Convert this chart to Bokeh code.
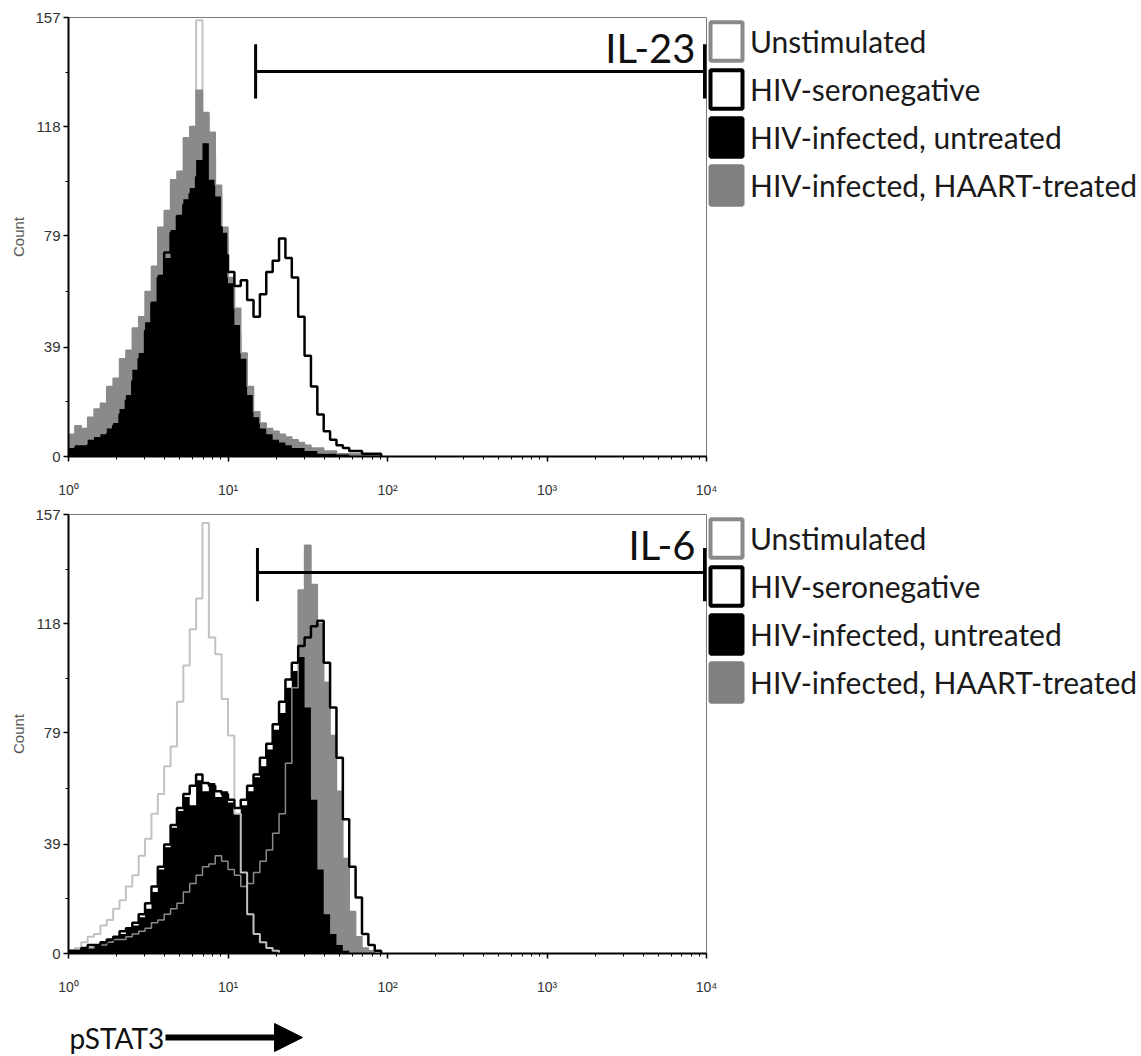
import numpy as np
from bokeh.plotting import figure
from bokeh.models import (Range1d, FixedTicker, Legend, LegendItem, Label,
                          Arrow, NormalHead)
from bokeh.layouts import column
from bokeh.embed import file_html
from bokeh.resources import INLINE

# ---------------- data ----------------
# histogram counts per channel bin; bins start at 10^0, each 0.04 decade wide
BIN_LOG_WIDTH = 0.04

il23_unstim = [1, 2, 4, 6, 7, 10, 12, 16, 19, 24, 28, 34, 41, 49, 57, 65, 74, 88,
               101, 112, 156, 122, 108, 94, 78, 60, 44, 26, 13, 7, 4, 2, 1]
il23_seroneg = [2, 3, 3, 4, 5, 6, 8, 11, 15, 20, 27, 35, 45, 55, 64, 73, 80, 86,
                90, 94, 100, 97, 89, 82, 72, 66, 61, 63, 56, 50, 58, 66, 70, 78,
                71, 64, 50, 36, 25, 15, 9, 6, 4, 3, 2, 2, 1, 1, 1]
il23_untreated = [3, 4, 4, 6, 7, 8, 10, 12, 17, 22, 31, 37, 48, 55, 65, 71, 81, 86,
                  92, 96, 106, 112, 99, 93, 80, 62, 47, 35, 22, 14, 10, 8, 6, 5, 4,
                  3, 3, 2, 2, 1, 1, 1, 1, 1]
il23_haart = [8, 11, 10, 14, 17, 19, 25, 28, 35, 38, 46, 50, 59, 68, 82, 88, 99, 102,
              114, 118, 131, 123, 116, 97, 82, 64, 53, 37, 25, 16, 12, 10, 9, 8, 7,
              6, 5, 4, 3, 3, 2, 2, 1, 1, 1, 1, 1, 1, 1]

il6_unstim = [1, 2, 4, 6, 7, 10, 12, 16, 19, 24, 28, 35, 41, 50, 57, 67, 74, 90,
              103, 116, 127, 154, 113, 107, 91, 78, 50, 29, 14, 7, 4, 2, 1]
il6_seroneg = [1, 1, 2, 3, 3, 4, 5, 6, 8, 9, 11, 14, 18, 24, 31, 39, 46, 52, 57, 60,
               64, 61, 60, 58, 57, 55, 52, 55, 60, 64, 70, 75, 82, 90, 98, 104, 110,
               113, 117, 119, 104, 88, 70, 48, 31, 20, 7, 3, 1]
il6_untreated = [1, 1, 2, 2, 3, 4, 5, 6, 7, 9, 10, 13, 16, 22, 30, 38, 45, 51, 56, 53,
                 62, 58, 61, 56, 58, 54, 50, 53, 58, 63, 67, 73, 80, 86, 95, 101, 106,
                 88, 55, 30, 14, 7, 3, 1]
il6_haart = [1, 1, 2, 2, 3, 3, 4, 5, 5, 6, 7, 8, 9, 11, 12, 14, 16, 18, 22, 25, 28,
             31, 32, 35, 33, 30, 28, 24, 25, 29, 33, 37, 43, 50, 68, 95, 130, 146,
             132, 118, 97, 78, 58, 34, 15, 6, 2, 1]

y_ticks = [0, 39, 79, 118, 157]
x_ticks = [1, 10, 100, 1000, 10000]
x_tick_labels = ["10\u2070", "10\u00b9", "10\u00b2", "10\u00b3", "10\u2074"]
legend_labels = ["Unstimulated", "HIV-seronegative",
                 "HIV-infected, untreated", "HIV-infected, HAART-treated"]
panel_labels = ["IL-23", "IL-6"]
gate_start = [14.9, 15.3]
gate_end = [10000, 10000]
gate_level = [137.7, 136.3]
gate_tick_low = [128, 126]
gate_tick_high = [147.4, 145]

# ---------------- styles ----------------
C_UNSTIM = "#c2c2c2"
C_HAART = "#8a8a8a"
C_BLACK = "#000000"
LEG_FILL = ["white", "white", "black", "#808080"]
LEG_LINE = ["#8a8a8a", "black", "black", "#808080"]
FRAME_W = 638
FRAME_H = 439
LEFT = 68


def step_xy(counts):
    n = len(counts)
    edges = 10 ** (BIN_LOG_WIDTH * np.arange(n + 1))
    return edges, list(counts) + [0]


def make_panel(idx, unstim, seroneg, untreated, haart, top_border, unstim_on_top):
    p = figure(frame_width=FRAME_W, frame_height=FRAME_H, x_axis_type="log",
               x_range=Range1d(1, 10000), y_range=Range1d(0, 157),
               output_backend="svg", toolbar_location=None,
               min_border_left=LEFT, min_border_right=0,
               min_border_top=top_border, min_border_bottom=46)
    p.grid.visible = False
    p.outline_line_color = "#7a7a7a"
    p.outline_line_width = 1

    def outline(counts, color, width):
        x, y = step_xy(counts)
        p.step(x=x, y=y, mode="after", line_color=color, line_width=width)

    def fill(counts, color):
        x, y = step_xy(counts)
        p.varea_step(x=x, y1=[0] * len(y), y2=y, step_mode="after",
                     fill_color=color)

    if not unstim_on_top:
        outline(unstim, C_UNSTIM, 2)
    fill(haart, C_HAART)
    fill(untreated, C_BLACK)
    outline(haart, C_HAART, 1.5)
    if unstim_on_top:
        outline(unstim, C_UNSTIM, 2)
    outline(seroneg, C_BLACK, 2.5)

    # gate
    p.segment(x0=[gate_start[idx]], y0=[gate_level[idx]], x1=[gate_end[idx]],
              y1=[gate_level[idx]], line_color="black", line_width=3)
    p.segment(x0=[gate_start[idx]], y0=[gate_tick_low[idx]], x1=[gate_start[idx]],
              y1=[gate_tick_high[idx]], line_color="black", line_width=3)
    p.segment(x0=[gate_end[idx]], y0=[gate_tick_low[idx]], x1=[gate_end[idx]],
              y1=[gate_tick_high[idx]], line_color="black", line_width=7)
    p.add_layout(Label(x=gate_end[idx], y=146, x_offset=-11, text=panel_labels[idx],
                       text_align="right", text_baseline="middle",
                       text_font="Lato", text_font_size="40px",
                       text_color="#111111"))

    # axes
    minor_x = [k * 10 ** d for d in range(4) for k in range(2, 10)]
    p.xaxis.ticker = FixedTicker(ticks=x_ticks, minor_ticks=minor_x)
    p.xaxis.major_label_overrides = dict(zip(x_ticks, x_tick_labels))
    p.yaxis.ticker = FixedTicker(ticks=y_ticks, minor_ticks=[19.5, 59, 98.5, 137.5])
    p.yaxis.axis_label = "Count"
    p.yaxis.axis_label_text_font_style = "normal"
    p.yaxis.axis_label_text_font = "Liberation Sans"
    p.yaxis.axis_label_text_font_size = "15px"
    p.yaxis.axis_label_text_color = "#555555"
    p.yaxis.axis_label_standoff = 5
    for ax in (p.xaxis, p.yaxis):
        ax.axis_line_width = 2
        ax.axis_line_color = "black"
        ax.major_tick_in = 0
        ax.major_tick_out = 5
        ax.major_tick_line_width = 1.5
        ax.minor_tick_in = 0
        ax.minor_tick_out = 3
        ax.major_label_text_font = "Liberation Sans"
        ax.major_label_text_color = "#333333"
    p.yaxis.major_label_text_font_size = "15px"
    p.yaxis.major_label_standoff = 3
    p.xaxis.major_label_text_font_size = "14px"
    p.xaxis.major_label_standoff = 20

    # legend (proxy squares; NaN geometry so nothing is drawn in the plot)
    items = []
    for lab, fc, lc in zip(legend_labels, LEG_FILL, LEG_LINE):
        r = p.quad(left=[np.nan], right=[np.nan], top=[np.nan], bottom=[np.nan],
                   fill_color=fc, line_color=lc, line_width=4)
        items.append(LegendItem(label=lab, renderers=[r]))
    leg = Legend(items=items, location="top_left", glyph_width=40, glyph_height=48,
                 spacing=0, padding=0, margin=0, label_standoff=4,
                 label_text_font="Lato", label_text_font_size="30px",
                 label_text_color="#1a1a1a", border_line_color=None,
                 background_fill_alpha=0)
    p.add_layout(leg, "right")
    return p


p1 = make_panel(0, il23_unstim, il23_seroneg, il23_untreated, il23_haart,
                top_border=17, unstim_on_top=False)
p2 = make_panel(1, il6_unstim, il6_seroneg, il6_untreated, il6_haart,
                top_border=12, unstim_on_top=True)

# bottom strip: frame aligned with the panels above, x in page pixels
p3 = figure(frame_width=FRAME_W, frame_height=57, x_range=Range1d(LEFT, LEFT + FRAME_W),
            y_range=Range1d(57, 0), output_backend="svg", toolbar_location=None,
            min_border_left=LEFT, min_border_right=0, min_border_top=0,
            min_border_bottom=0, x_axis_location=None, y_axis_location=None)
p3.grid.visible = False
p3.outline_line_color = None
p3.add_layout(Label(x=69, y=38, text="pSTAT3", text_baseline="middle",
                    text_font="Lato", text_font_size="28px", text_color="#111111"))
p3.add_layout(Arrow(x_start=165, y_start=38, x_end=302, y_end=38, line_width=6,
                    line_color="black",
                    end=NormalHead(size=28, fill_color="black", line_color="black")))

layout = column(p1, p2, p3, spacing=0)
open("out.html", "w").write(file_html(layout, INLINE))
